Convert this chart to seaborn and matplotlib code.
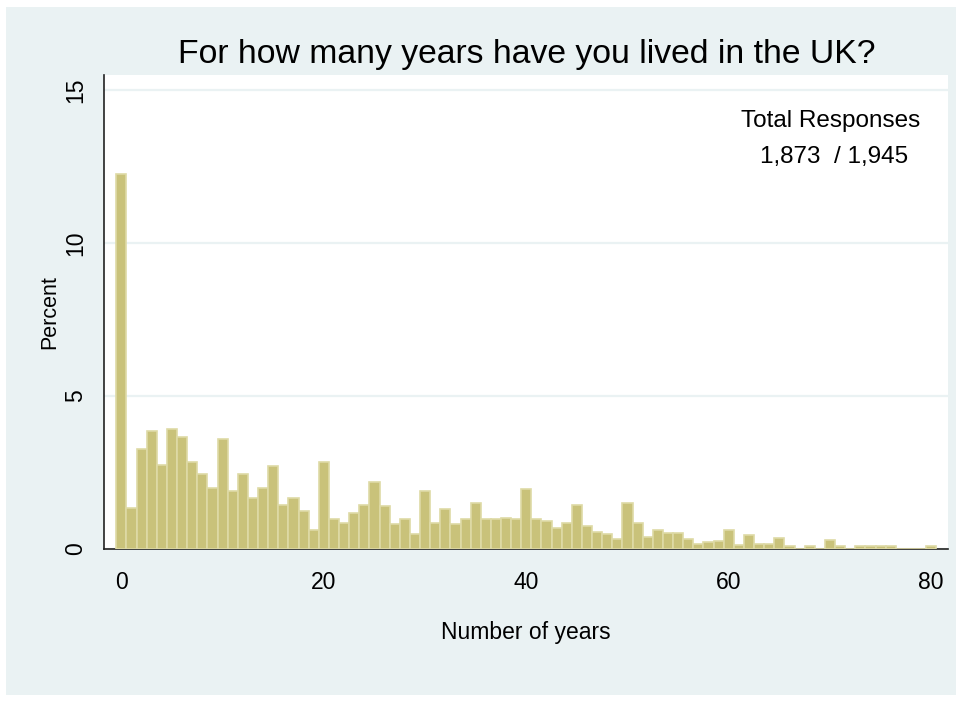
import numpy as np
import pandas as pd
import matplotlib
matplotlib.use("Agg")
import matplotlib.pyplot as plt
from matplotlib.patches import Rectangle
import seaborn as sns

# years lived in the UK (0..80) and share of respondents, in percent
years = list(range(0, 81))
percent = [
    12.25, 1.33, 3.25, 3.84, 2.72, 3.92, 3.65, 2.83, 2.45, 1.98,   # 0-9
    3.58, 1.89, 2.45, 1.65, 1.98, 2.69, 1.44, 1.65, 1.23, 0.60,    # 10-19
    2.84, 0.95, 0.84, 1.16, 1.43, 2.17, 1.38, 0.81, 0.95, 0.48,    # 20-29
    1.88, 0.84, 1.29, 0.81, 0.95, 1.48, 0.95, 0.95, 1.00, 0.95,    # 30-39
    1.95, 0.95, 0.90, 0.68, 0.83, 1.43, 0.73, 0.54, 0.48, 0.32,    # 40-49
    1.48, 0.84, 0.37, 0.62, 0.51, 0.51, 0.32, 0.14, 0.21, 0.26,    # 50-59
    0.59, 0.10, 0.43, 0.15, 0.15, 0.34, 0.07, 0.00, 0.07, 0.00,    # 60-69
    0.28, 0.07, 0.00, 0.07, 0.07, 0.07, 0.07, 0.00, 0.00, 0.00,    # 70-79
    0.07,                                                          # 80
]
x_ticks = [0, 20, 40, 60, 80]
y_ticks = [0, 5, 10, 15]

title = "For how many years have you lived in the UK?"
note_lines = ["Total Responses", "1,873  / 1,945"]

df = pd.DataFrame({"years": years, "percent": percent})

BG = "#EAF2F3"
BAR = "#C9C27A"
EDGE = "#DEDAA6"
W, H = 963, 702

sns.set_style("white")
plt.rcParams["font.family"] = ["Liberation Sans", "DejaVu Sans"]
plt.rcParams["text.color"] = "black"
plt.rcParams["axes.labelcolor"] = "black"
plt.rcParams["xtick.color"] = "black"
plt.rcParams["ytick.color"] = "black"

fig = plt.figure(figsize=(W / 100, H / 100), dpi=100)
fig.patch.set_facecolor("white")
fig.patches.append(Rectangle((6 / W, 1 - 695 / H), (956 - 6) / W, (695 - 7) / H,
                             transform=fig.transFigure, facecolor=BG,
                             edgecolor="none", zorder=-10))

ax = fig.add_axes([104 / W, 1 - 548.5 / H, (948 - 104) / W, (548.5 - 75) / H])
ax.set_facecolor("white")

sns.histplot(data=df, x="years", weights="percent", discrete=True, shrink=1,
             color=BAR, edgecolor=EDGE, linewidth=1.2, alpha=1, ax=ax, zorder=3)

ax.set_xlim(-1.72, 81.66)
ax.set_ylim(0, 15.5)
ax.set_xticks(x_ticks)
ax.set_yticks(y_ticks)
ax.set_yticklabels([str(t) for t in y_ticks], rotation=90, va="center")
ax.grid(axis="y", color=BG, linewidth=1.6, zorder=0)
ax.set_axisbelow(True)

for side in ("top", "right"):
    ax.spines[side].set_visible(False)
for side in ("left", "bottom"):
    ax.spines[side].set_color("#222222")
    ax.spines[side].set_linewidth(1.2)
ax.tick_params(axis="x", direction="out", length=9, width=1.6, color="#444444",
               labelsize=16.5, pad=7)
ax.tick_params(axis="y", direction="out", length=9, width=1.0, color="#444444",
               labelsize=16.5, pad=3)

ax.set_xlabel("Number of years", fontsize=16.5, labelpad=20)
ax.set_ylabel("Percent", fontsize=15.5, labelpad=3)

fig.text(527 / W, 1 - 54 / H, title, fontsize=24.3, ha="center", va="center")
fig.text(831 / W, 1 - 121 / H, note_lines[0], fontsize=17.5,
         ha="center", va="center")
fig.text(834 / W, 1 - 157 / H, note_lines[1], fontsize=17.5,
         ha="center", va="center")

fig.savefig("out.png", dpi=100)
